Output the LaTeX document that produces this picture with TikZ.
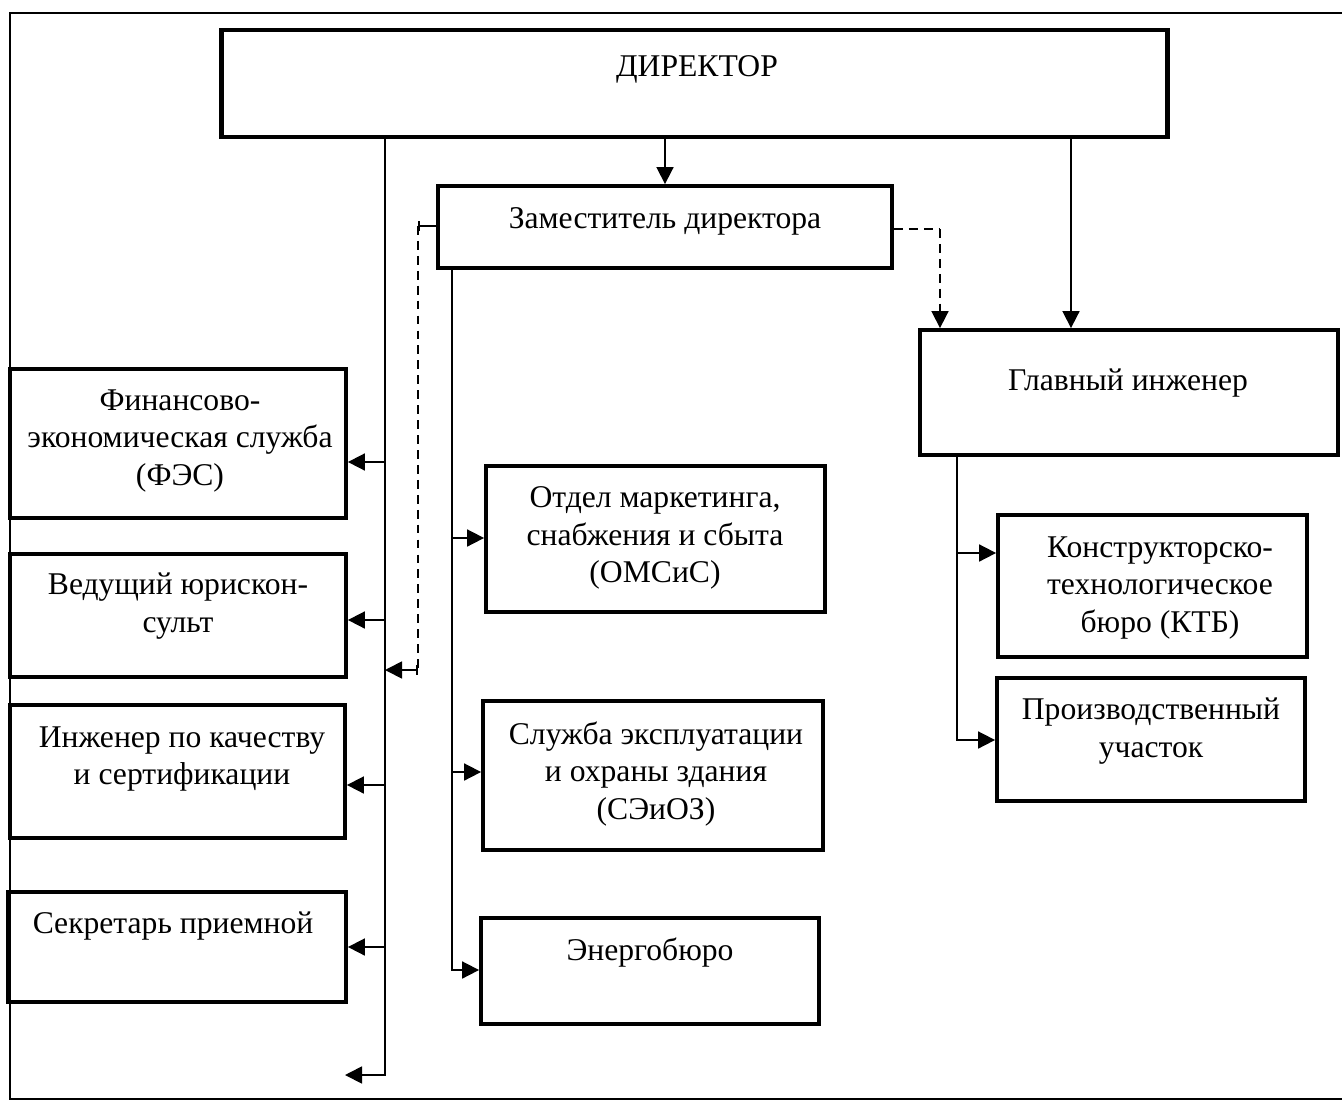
\documentclass[tikz,border=0pt]{standalone}
\usepackage{fontspec}
\setmainfont{Liberation Serif}
\usetikzlibrary{arrows.meta}

\tikzset{
  box/.style={draw, line width=2.2pt, inner sep=0pt},
  txt/.style={align=center, inner sep=0pt, font=\fontsize{18}{21.5}\selectfont},
  link/.style={line width=1pt, -{Triangle[length=0.34cm, width=0.34cm]}},
  plain/.style={line width=1pt},
  dashline/.style={dash pattern=on 5pt off 3.5pt}
}

\begin{document}
\begin{tikzpicture}[x=0.02cm, y=-0.02cm]
  \useasboundingbox (0,0) rectangle (1342,1102);
  \draw[line width=1.2pt] (1342,13) -- (10,13) -- (10,1099) -- (1342,1099);

  % boxes
  \node[box, line width=2.8pt, minimum width=18.94cm, minimum height=2.14cm] (dir) at (694.5,83.5) {};
  \node[box, minimum width=9.08cm, minimum height=1.64cm] (zam) at (665,227) {};
  \node[box, minimum width=8.36cm, minimum height=2.5cm] (glav) at (1129,392.5) {};
  \node[box, minimum width=6.72cm, minimum height=2.98cm] (fes) at (178,443.5) {};
  \node[box, minimum width=6.72cm, minimum height=2.46cm] (jur) at (178,615.5) {};
  \node[box, minimum width=6.7cm, minimum height=2.66cm] (kach) at (177.5,771.5) {};
  \node[box, minimum width=6.76cm, minimum height=2.2cm] (sekr) at (177,947) {};
  \node[box, minimum width=6.78cm, minimum height=2.92cm] (oms) at (655.5,539) {};
  \node[box, minimum width=6.8cm, minimum height=2.98cm] (seoz) at (653,775.5) {};
  \node[box, minimum width=6.76cm, minimum height=2.12cm] (energo) at (650,971) {};
  \node[box, minimum width=6.18cm, minimum height=2.84cm] (ktb) at (1152.5,586) {};
  \node[box, minimum width=6.16cm, minimum height=2.46cm] (proizv) at (1151,739.5) {};

  % texts
  \node[txt] (dir-t) at (697,69) {ДИРЕКТОР};
  \node[txt] (zam-t) at (665,221) {Заместитель директора};
  \node[txt] (glav-t) at (1128,383) {Главный инженер};
  \node[txt] (fes-t) at (180,441) {Финансово-\\экономическая служба\\(ФЭС)};
  \node[txt] (jur-t) at (178,606) {Ведущий юрискон-\\сульт};
  \node[txt] (kach-t) at (182,759) {Инженер по качеству\\и сертификации};
  \node[txt] (sekr-t) at (173,926) {Секретарь приемной};
  \node[txt] (oms-t) at (655,538) {Отдел маркетинга,\\снабжения и сбыта\\(ОМСиС)};
  \node[txt] (seoz-t) at (656,774) {Служба эксплуатации\\и охраны здания\\(СЭиОЗ)};
  \node[txt] (energo-t) at (650,953) {Энергобюро};
  \node[txt] (ktb-t) at (1160,588) {Конструкторско-\\технологическое\\бюро (КТБ)};
  \node[txt] (proizv-t) at (1151,731) {Производственный\\участок};

  \coordinate (lend) at (345,1075);
  \coordinate (dtop) at (418,226);
  \coordinate (dbot) at (418,670);
  \coordinate (rtop) at (940,229);

  % director
  \draw[link] (dir.south -| 385,0) |- (lend);
  \draw[link] (dir.south -| zam.north) -- (zam.north);
  \draw[link] (dir.south -| 1071,0) -- (glav.north -| 1071,0);
  \foreach \b/\y in {fes/462, jur/620, kach/785, sekr/947}
    \draw[link] (385,\y) -- (\b.east |- 0,\y);

  % deputy
  \draw[plain, {Bar[width=0.2cm]}-] (dtop) -- (zam.west |- dtop);
  \draw[plain, dashline] (dtop) -- (dbot);
  \draw[link, {Bar[width=0.2cm]}-{Triangle[length=0.34cm, width=0.34cm]}] (dbot) -- (385,670);
  \draw[plain, dashline] (zam.east |- rtop) -- (rtop);
  \draw[link, dashline] (rtop) -- (glav.north -| rtop);
  \draw[link] (zam.south -| 452,0) |- (energo.west |- 0,970);
  \foreach \b/\y in {oms/538, seoz/772}
    \draw[link] (452,\y) -- (\b.west |- 0,\y);

  % chief engineer
  \draw[link] (glav.south -| 957,0) |- (proizv.west |- 0,740);
  \draw[link] (957,553) -- (ktb.west |- 0,553);
\end{tikzpicture}
\end{document}
